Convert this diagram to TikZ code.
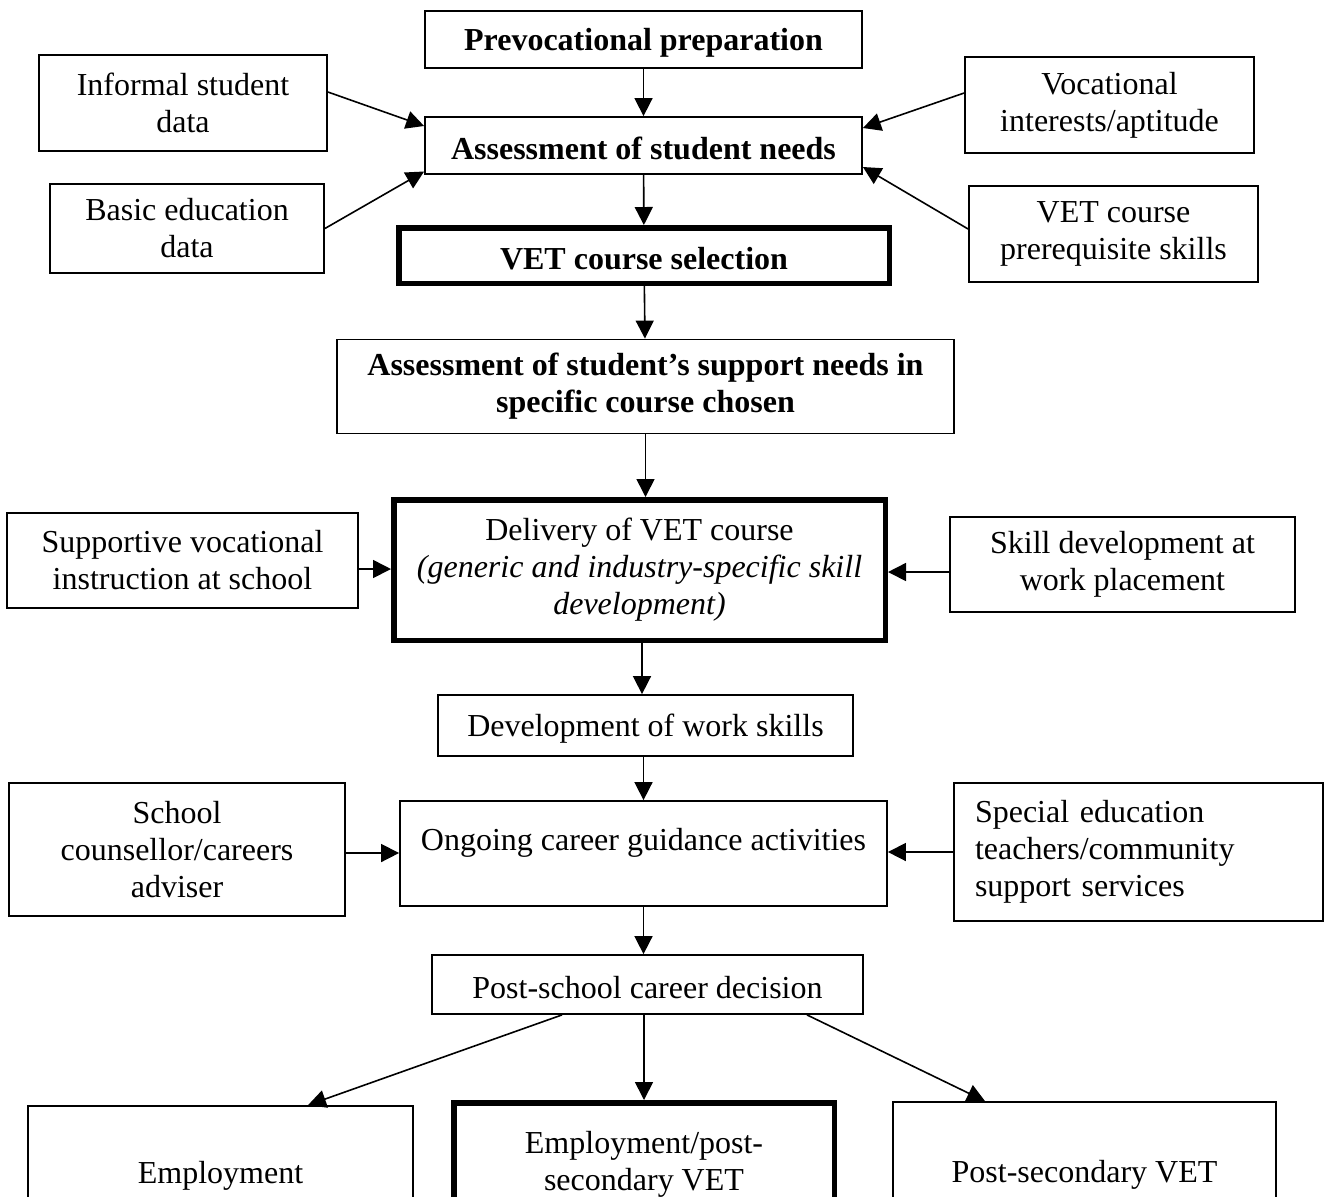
\documentclass[tikz,border=0pt]{standalone}
\usepackage{fontspec}
\setmainfont{Liberation Serif}
\usetikzlibrary{arrows.meta}
\newcommand\lowr[1]{\raisebox{-1.5pt}[\height][\depth]{#1}}
\begin{document}
\begin{tikzpicture}[x=0.5pt,y=-0.5pt,
  box/.style={draw, line width=0.9pt, inner sep=0pt, align=center,
    font=\fontsize{16pt}{18.5pt}\selectfont},
  thick box/.style={box, line width=2.75pt},
  bold box/.style={box, font=\fontsize{16pt}{18.5pt}\selectfont\bfseries},
  arr/.style={line width=0.8pt, -{Triangle[length=9pt,width=9pt]}}]
\useasboundingbox (0,0) rectangle (1326,1196);
\clip (0,0) rectangle (1326,1196);

% main column
\node[bold box, minimum width=218.5pt, minimum height=28.5pt] (prev) at (643.5,39.5) {\lowr{Prevocational preparation}};
\node[bold box, minimum width=218.5pt, minimum height=28.5pt] (assess) at (643.5,145.5) {\lowr{Assessment of student needs}};
\node[bold box, line width=2.75pt, minimum width=245.25pt, minimum height=27.75pt] (vetsel) at (644,255.5) {\lowr{VET course selection}};
\node[bold box, minimum width=308.5pt, minimum height=47pt] (asup) at (645.5,386.5) {Assessment of student’s support needs in\\specific course chosen};
\node[thick box, minimum width=245.75pt, minimum height=70.25pt] (deliv) at (639.5,570) {Delivery of VET course\\\textit{(generic and industry-specific skill}\\\textit{development)}};
\node[box, minimum width=207.5pt, minimum height=30.5pt] (dev) at (645.5,725.5) {\lowr{Development of work skills}};
\node[box, minimum width=243.5pt, minimum height=52.5pt] (ongoing) at (643.5,853.5) {\raisebox{5.5pt}[\height][\depth]{Ongoing career guidance activities}};
\node[box, minimum width=215.5pt, minimum height=29.5pt] (post) at (647.5,984.5) {\lowr{Post-school career decision}};

% side inputs
\node[box, minimum width=144pt, minimum height=48pt] (informal) at (183,103) {Informal student\\data};
\node[box, minimum width=137pt, minimum height=44.5pt] (basic) at (187,228.5) {Basic education\\data};
\node[box, minimum width=144.5pt, minimum height=48pt] (vocint) at (1109.5,105) {Vocational\\interests/aptitude};
\node[box, minimum width=144.5pt, minimum height=48pt] (prereq) at (1113.5,234) {VET course\\prerequisite skills};
\node[box, minimum width=175.5pt, minimum height=47.5pt] (supp) at (182.5,560.5) {Supportive vocational\\instruction at school};
\node[box, minimum width=172.5pt, minimum height=47.5pt] (skill) at (1122.5,564.5) {Skill development at\\work placement};
\node[box, minimum width=168pt, minimum height=66.5pt] (school) at (177,849.5) {School\\counsellor/careers\\adviser};
\node[box, align=left, inner xsep=10.5pt, text width=163.5pt, minimum height=69pt] (special) at (1138.5,852) {Special education\\teachers/community\\support services};

% outcomes
\node[box, minimum width=192.5pt, minimum height=67pt] (emp) at (220.5,1173) {\lowr{Employment}};
\node[thick box, minimum width=190.25pt, minimum height=61.75pt] (emppost) at (644,1164.5) {Employment/post-\\secondary VET};
\node[box, minimum width=191.5pt, minimum height=70pt] (postsec) at (1084.5,1172) {\lowr{Post-secondary VET}};

% connectors
\draw[arr] (prev) -- (assess);
\draw[arr] (assess) -- (vetsel);
\draw[arr] ([yshift=5.5pt]informal.east) -- ([yshift=9.75pt]assess.west);
\draw[arr] (basic.east) -- ([yshift=-13pt]assess.west);
\draw[arr] ([yshift=6pt]vocint.west) -- ([yshift=8.75pt]assess.east);
\draw[arr] ([yshift=2.5pt]prereq.west) -- ([yshift=-10.75pt]assess.east);
\draw[arr] (vetsel) -- (asup);
\draw[arr] (asup.south) -- (asup.south |- deliv.north);
\coordinate (c1) at ([yshift=-4.25pt]supp.east);
\draw[arr] (c1) -- (c1 -| deliv.west);
\coordinate (c2) at ([yshift=-3.75pt]skill.west);
\draw[arr] (c2) -- (c2 -| deliv.east);
\coordinate (c3) at ([xshift=1.25pt]deliv.south);
\draw[arr] (c3) -- (c3 |- dev.north);
\draw[arr] (ongoing.north |- dev.south) -- (ongoing.north);
\coordinate (c4) at ([yshift=-1.75pt]school.east);
\draw[arr] (c4) -- (c4 -| ongoing.west);
\draw[arr] (special.west) -- (special.west -| ongoing.east);
\draw[arr] (ongoing.south) -- (ongoing.south |- post.north);
\draw[arr] ([xshift=-42.75pt]post.south) -- ([xshift=43.75pt]emp.north);
\draw[arr] (emppost.north |- post.south) -- (emppost.north);
\draw[arr] ([xshift=79.75pt]post.south) -- ([xshift=-49.75pt]postsec.north);
\end{tikzpicture}
\end{document}
